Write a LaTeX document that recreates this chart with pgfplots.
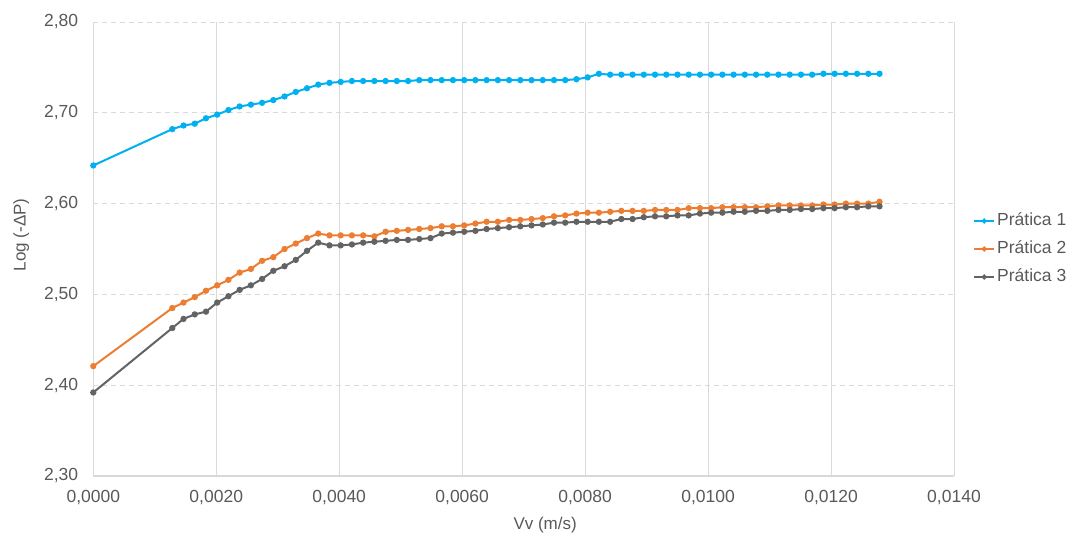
\documentclass[border=0pt]{standalone}
\usepackage{fontspec}
\setmainfont{Liberation Sans}
\usepackage{pgfplots}
\usepackage{pgfplotstable}
\pgfplotsset{compat=1.18}
\definecolor{pone}{HTML}{00B0F0}
\definecolor{ptwo}{HTML}{ED7D31}
\definecolor{pthree}{HTML}{636363}
\definecolor{gridgray}{HTML}{D9D9D9}
\definecolor{txtgray}{HTML}{595959}

\pgfplotstableread{
x p1 p2 p3
0.0000000 2.642 2.421 2.392
0.0012850 2.682 2.485 2.463
0.0014676 2.686 2.491 2.473
0.0016502 2.688 2.497 2.478
0.0018328 2.694 2.504 2.481
0.0020154 2.698 2.510 2.491
0.0021980 2.703 2.516 2.498
0.0023806 2.707 2.524 2.505
0.0025632 2.709 2.528 2.510
0.0027458 2.711 2.537 2.517
0.0029284 2.714 2.541 2.526
0.0031110 2.718 2.550 2.531
0.0032936 2.723 2.556 2.538
0.0034762 2.727 2.562 2.548
0.0036588 2.731 2.567 2.557
0.0038414 2.733 2.565 2.554
0.0040240 2.734 2.565 2.554
0.0042066 2.735 2.565 2.555
0.0043892 2.735 2.565 2.557
0.0045718 2.735 2.564 2.558
0.0047544 2.735 2.569 2.559
0.0049370 2.735 2.570 2.560
0.0051196 2.735 2.571 2.560
0.0053022 2.736 2.572 2.561
0.0054848 2.736 2.573 2.562
0.0056674 2.736 2.575 2.567
0.0058500 2.736 2.575 2.568
0.0060326 2.736 2.576 2.569
0.0062152 2.736 2.578 2.570
0.0063978 2.736 2.580 2.572
0.0065804 2.736 2.580 2.573
0.0067630 2.736 2.582 2.574
0.0069456 2.736 2.582 2.575
0.0071282 2.736 2.583 2.576
0.0073108 2.736 2.584 2.577
0.0074934 2.736 2.586 2.579
0.0076760 2.736 2.587 2.579
0.0078586 2.737 2.589 2.580
0.0080412 2.739 2.590 2.580
0.0082238 2.743 2.590 2.580
0.0084064 2.742 2.591 2.580
0.0085890 2.742 2.592 2.583
0.0087716 2.742 2.592 2.583
0.0089542 2.742 2.592 2.585
0.0091368 2.742 2.593 2.586
0.0093194 2.742 2.593 2.586
0.0095020 2.742 2.593 2.587
0.0096846 2.742 2.595 2.587
0.0098672 2.742 2.595 2.589
0.0100498 2.742 2.595 2.590
0.0102324 2.742 2.596 2.590
0.0104150 2.742 2.596 2.591
0.0105976 2.742 2.596 2.591
0.0107802 2.742 2.596 2.592
0.0109628 2.742 2.597 2.592
0.0111454 2.742 2.598 2.593
0.0113280 2.742 2.598 2.593
0.0115106 2.742 2.598 2.594
0.0116932 2.742 2.598 2.594
0.0118758 2.743 2.599 2.595
0.0120584 2.743 2.599 2.595
0.0122410 2.743 2.600 2.596
0.0124236 2.743 2.600 2.596
0.0126062 2.743 2.600 2.597
0.0127888 2.743 2.602 2.597
}\datatable

\begin{document}
\begin{tikzpicture}
\useasboundingbox (0,0) rectangle (1070pt,536pt);
\begin{axis}[
  at={(93.3pt,60pt)}, anchor=south west,
  scale only axis, width=860.7pt, height=454pt,
  xmin=0, xmax=0.014, ymin=2.3, ymax=2.8,
  xtick={0,0.002,...,0.0141}, ytick={2.3,2.4,...,2.81},
  scaled x ticks=false, scaled y ticks=false,
  x tick label style={/pgf/number format/fixed, /pgf/number format/fixed zerofill, /pgf/number format/precision=4, /pgf/number format/use comma, /pgf/number format/assume math mode=true},
  y tick label style={/pgf/number format/fixed, /pgf/number format/fixed zerofill, /pgf/number format/precision=2, /pgf/number format/use comma, /pgf/number format/assume math mode=true},
  major tick length=0pt,
  axis line style={draw=none},
  xmajorgrids, ymajorgrids,
  x grid style={gridgray, line width=1pt},
  y grid style={gridgray, line width=1pt, dash pattern=on 5pt off 4pt},
  tick label style={font=\fontsize{17.5}{20}\selectfont, text=txtgray, inner sep=0pt},
  xticklabel style={anchor=north, yshift=-14pt},
  yticklabel style={anchor=east, xshift=-15pt},
  xlabel={Vv (m/s)}, ylabel={Log (-ΔP)},
  label style={font=\fontsize{17}{20}\selectfont, text=txtgray},
  xlabel style={at={(axis description cs:0.525,-0.108)}, anchor=center},
  ylabel style={at={(axis description cs:-0.0836,0.531)}, anchor=center},
  legend style={draw=none, fill=none, at={(rel axis cs:1.0186,0.50)}, anchor=west,
    font=\fontsize{17.5}{20}\selectfont, text=txtgray,
    nodes={text height=12pt, text depth=4pt, inner sep=2pt}, row sep=8pt},
  legend cell align=left,
  legend image code/.code={\draw[mark repeat=2,mark phase=2, mark size=1.5pt] plot coordinates {(0pt,0pt) (10pt,0pt) (20pt,0pt)};},
  every axis plot/.append style={line width=2pt, mark=*, mark size=2.1pt},
]
\addplot[color=pone, mark options={fill=pone, draw=pone}] table[x=x, y=p1] {\datatable};
\addlegendentry{Prática 1}
\addplot[color=ptwo, mark options={fill=ptwo, draw=ptwo}] table[x=x, y=p2] {\datatable};
\addlegendentry{Prática 2}
\addplot[color=pthree, mark options={fill=pthree, draw=pthree}] table[x=x, y=p3] {\datatable};
\addlegendentry{Prática 3}
\draw[gridgray, line width=1.2pt] (rel axis cs:0,0) -- (rel axis cs:1,0);
\end{axis}
\end{tikzpicture}
\end{document}
